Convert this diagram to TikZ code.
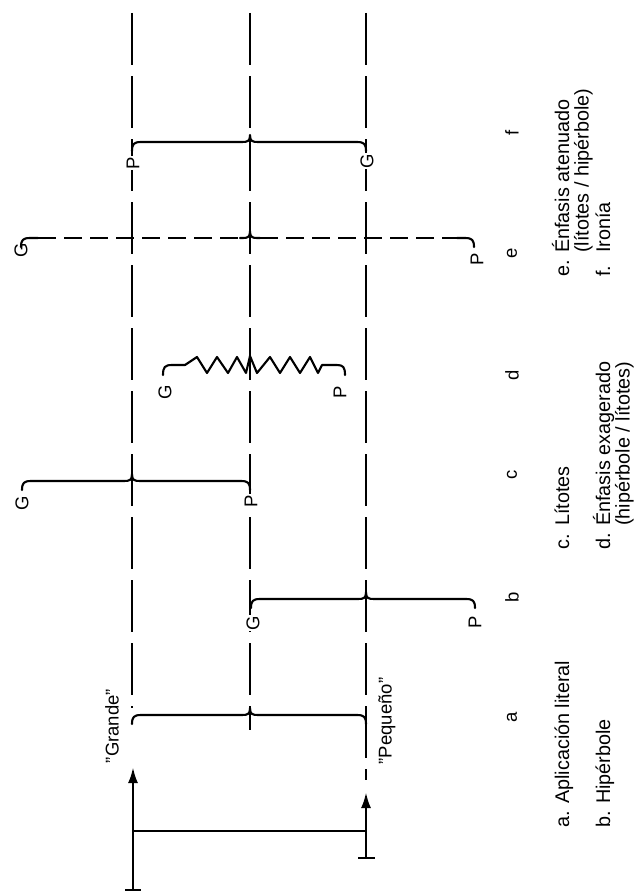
\documentclass[tikz,border=0pt]{standalone}
\usepackage{fontspec}
\setmainfont{Liberation Sans}
\usetikzlibrary{arrows.meta}
\newcommand\mybrace[5][]{%
  \draw[bracepath,#1] (#2,{#5+9}) .. controls (#2,{#5+2}) and ({#2+2},#5) .. ({#2+9},#5)
    -- ({#4-8},#5) .. controls ({#4-2},#5) and (#4,{#5-1}) .. (#4,{#5-7})
    .. controls (#4,{#5-1}) and ({#4+2},#5) .. ({#4+8},#5)
    -- ({#3-9},#5) .. controls ({#3-2},#5) and (#3,{#5+2}) .. (#3,{#5+9});}
\newcommand\itm[2]{\makebox[24pt][l]{#1}#2}
\begin{document}
\begin{tikzpicture}[x=1pt,y=-1pt,
  vline/.style={line width=2.5pt, dash pattern=on 52pt off 11pt},
  bracepath/.style={line width=2.1pt, line cap=round, line join=round},
  dashbrace/.style={line width=2.1pt, dash pattern=on 18pt off 8pt},
  solidline/.style={line width=2.7pt},
  lbl/.style={rotate=90, font=\fontsize{18.5}{18.5}\selectfont, inner sep=1pt},
  onlbl/.style={lbl, fill=white},
  itembox/.style={rotate=90, anchor=base west, inner sep=0pt, font=\fontsize{19.8}{16.8}\selectfont},
  tip/.style={-{Latex[length=16pt,width=10pt]}}
]
\useasboundingbox (0,0) rectangle (637,891);
\fill[white] (0,0) rectangle (637,891);
% main vertical lines
\coordinate (L1top) at (132,13); \coordinate (L1bot) at (132,708);
\coordinate (L2top) at (250,13); \coordinate (L2bot) at (250,730);
\coordinate (L3top) at (366,13); \coordinate (L3bot) at (366,780);
\draw[vline] (L1top) -- (L1bot);
\draw[vline] (L2top) -- (L2bot);
\draw[vline] (L3top) -- (L3bot);
% braces
\mybrace{132}{366}{250}{142}          % f
\mybrace{22}{250}{132}{481}           % c
\mybrace{251}{475}{366}{599}          % b
\mybrace{132}{366}{250}{715}          % a
% dashed brace e
\draw[bracepath] (21,247) .. controls (21,240) and (23,238) .. (30,238) -- (38,238);
\draw[dashbrace] (38,238) -- (242,238);
\draw[bracepath] (240,238) -- (243,238) .. controls (248,238) and (250,237) .. (250,231)
  .. controls (250,237) and (252,238) .. (257,238) -- (260,238);
\draw[dashbrace] (260,238) -- (457,238);
\draw[bracepath] (457,238) -- (465,238) .. controls (472,238) and (474,240) .. (474,247);
% zigzag brace d
\draw[bracepath] (163,375) .. controls (163,367) and (165,365) .. (172,365) -- (185,365)
  -- (197,357) -- (207,373) -- (217,357) -- (228,373) -- (237,357) -- (246,373) -- (250,356)
  -- (257,373) -- (270,357) -- (280,373) -- (290,357) -- (300,373) -- (310,357) -- (318,373)
  -- (322,365) -- (337,365) .. controls (343,365) and (345,367) .. (345,375);
% labels of brace ends
\node[onlbl] (fP) at (133,163) {P};
\node[onlbl] (fG) at (367,161) {G};
\node[lbl] (eG) at (21,250) {G};
\node[lbl] (eP) at (477,259) {P};
\node[lbl] (dG) at (165,392) {G};
\node[lbl] (dP) at (340,392) {P};
\node[lbl] (cG) at (22,503) {G};
\node[onlbl] (cP) at (251,501) {P};
\node[onlbl] (bG) at (253,623) {G};
\node[lbl] (bP) at (475,622) {P};
\node[lbl] (grande) at (112,726) {"Grande"};
\node[lbl] (pequeno) at (387,721) {"Pequeño"};
% column letters
\node[lbl] (cf) at (512,133) {f};
\node[lbl] (ce) at (512,253) {e};
\node[lbl] (cd) at (512,375) {d};
\node[lbl] (cc) at (512,475) {c};
\node[lbl] (cb) at (512,597) {b};
\node[lbl] (ca) at (512,717) {a};
% arrows at the bottom
\coordinate (A1s) at (133,896); \coordinate (A1e) at (133,767);
\coordinate (A3s) at (366,858); \coordinate (A3e) at (366,792);
\draw[solidline,tip] (A1s) -- (A1e);
\draw[solidline,tip] (A3s) -- (A3e);
\draw[solidline] (125,890) -- (141,890);
\draw[solidline] (358,858) -- (375,858);
\draw[line width=2pt] (133,831) -- (366,831);
% list
\node[itembox] (ia) at (569,828) {\itm{a.}{Aplicación literal}};
\node[itembox] (ib) at (610,828) {\itm{b.}{Hipérbole}};
\node[itembox] (ic) at (569,550) {\itm{c.}{Lítotes}};
\node[itembox] (id) at (610,550) {\begin{tabular}[t]{@{}l@{}}\itm{d.}{Énfasis exagerado}\\\itm{}{(hipérbole / lítotes)}\end{tabular}};
\node[itembox] (ie) at (569,277) {\begin{tabular}[t]{@{}l@{}}\itm{e.}{Énfasis atenuado}\\\itm{}{(lítotes / hipérbole)}\end{tabular}};
\node[itembox] (if) at (610,277) {\itm{f.}{Ironía}};
\end{tikzpicture}
\end{document}
